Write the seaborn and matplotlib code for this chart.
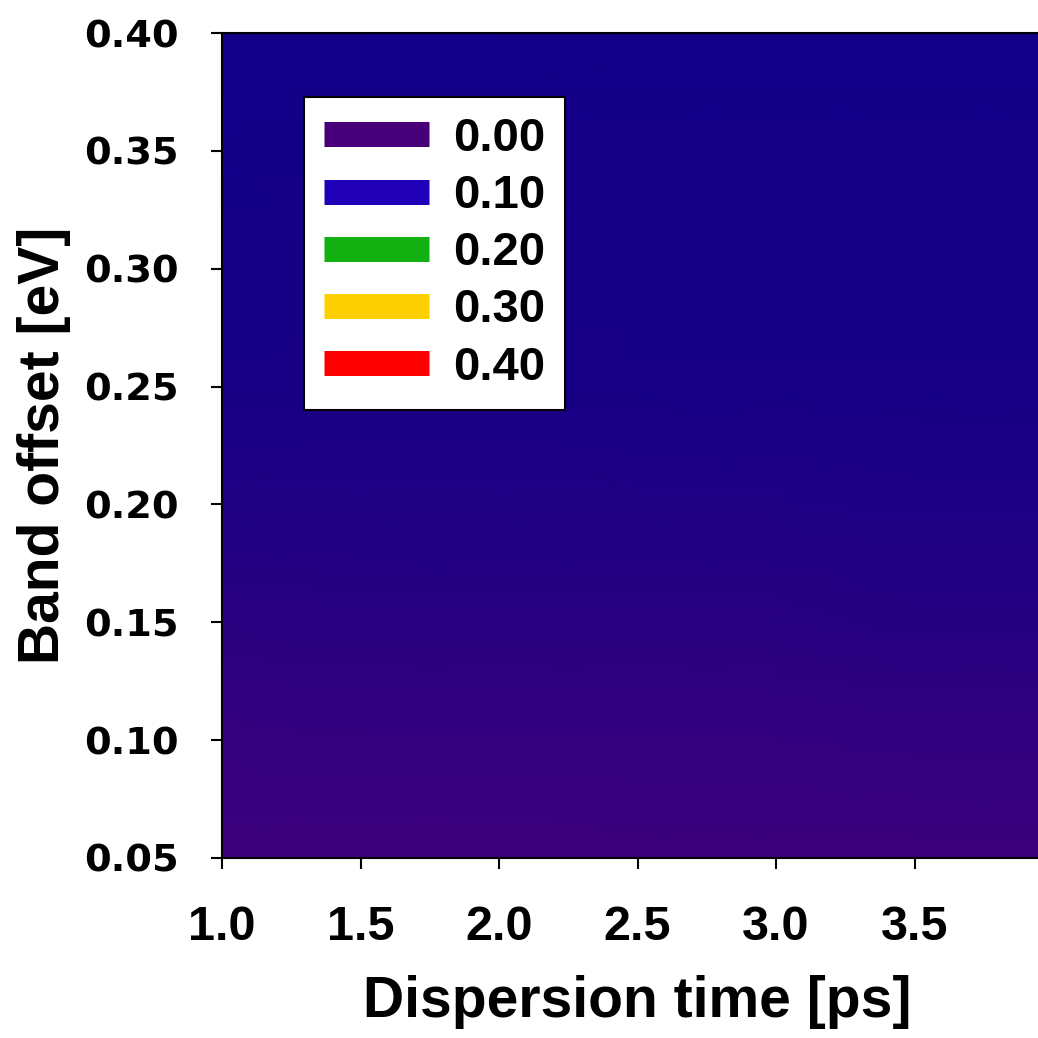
import numpy as np
import seaborn as sns
import matplotlib.pyplot as plt
from matplotlib.colors import LinearSegmentedColormap, Normalize
from matplotlib.lines import Line2D

sns.set_style("ticks")
plt.rcParams["font.family"] = ["Liberation Sans", "DejaVu Sans"]
plt.rcParams["font.weight"] = "bold"
for key in ["text.color", "axes.labelcolor", "xtick.color", "ytick.color", "axes.edgecolor"]:
    plt.rcParams[key] = "black"

# grid (values estimated from the shading)
dispersion_time = [1.0, 1.5, 2.0, 2.5, 3.0, 3.5, 4.0]
band_offset = [0.05, 0.10, 0.15, 0.20, 0.25, 0.30, 0.35, 0.40]
signal = [
    [0.020, 0.020, 0.020, 0.021, 0.021, 0.021, 0.021],
    [0.029, 0.030, 0.030, 0.031, 0.031, 0.032, 0.032],
    [0.037, 0.038, 0.038, 0.039, 0.039, 0.040, 0.040],
    [0.044, 0.044, 0.045, 0.045, 0.045, 0.046, 0.046],
    [0.050, 0.049, 0.049, 0.050, 0.050, 0.050, 0.050],
    [0.054, 0.053, 0.053, 0.053, 0.054, 0.054, 0.054],
    [0.057, 0.056, 0.056, 0.056, 0.056, 0.056, 0.056],
    [0.058, 0.060, 0.060, 0.059, 0.058, 0.058, 0.058],
]

xtick_values = [1.0, 1.5, 2.0, 2.5, 3.0, 3.5]
legend_levels = [0.00, 0.10, 0.20, 0.30, 0.40]

# colour ramp of the original plot
cmap_values = [0.0, 0.020, 0.030, 0.038, 0.045, 0.050, 0.058, 0.10, 0.20, 0.30, 0.40]
cmap_colors = ["#47007a", "#3c007c", "#33007e", "#26007f", "#1c0084", "#170086",
               "#130088", "#2000b8", "#10b010", "#ffd000", "#ff0000"]

vmin, vmax = 0.0, 0.40
cmap = LinearSegmentedColormap.from_list(
    "sigma", [((v - vmin) / (vmax - vmin), c) for v, c in zip(cmap_values, cmap_colors)])
norm = Normalize(vmin, vmax)

fig = plt.figure(figsize=(10.38, 10.38), dpi=100)
ax = fig.add_axes([222 / 1038, 180 / 1038, 831 / 1038, 825 / 1038])

X, Y = np.meshgrid(dispersion_time, band_offset)
ax.pcolormesh(X, Y, np.array(signal), shading="gouraud", cmap=cmap, norm=norm)

ax.set_xlim(1.0, 4.0)
ax.set_ylim(0.05, 0.40)
ax.set_xticks(xtick_values)
ax.set_xticklabels([f"{t:.1f}" for t in xtick_values], fontsize=35, fontweight="bold")
ax.set_yticks(band_offset)
ax.set_yticklabels([f"{t:.2f}" for t in band_offset], fontsize=27.5, fontweight="bold",
                   family="DejaVu Sans")
ax.tick_params(axis="x", direction="out", length=8, width=1.5, pad=26)
ax.tick_params(axis="y", direction="out", length=8, width=1.5, pad=23)

for side in ["left", "bottom", "top", "right"]:
    ax.spines[side].set_linewidth(1.5)

ax.set_xlabel("Dispersion time [ps]", fontsize=41, fontweight="bold")
ax.set_ylabel("Band offset [eV]", fontsize=41, fontweight="bold")
ax.xaxis.set_label_coords(0.5, -0.142)
ax.yaxis.set_label_coords(-0.182, 0.5)

handles = [Line2D([0], [0], color=cmap(norm(v)), lw=18, solid_capstyle="butt")
           for v in legend_levels]
leg = ax.legend(handles, [f"{v:.2f}" for v in legend_levels],
                loc="upper left", bbox_to_anchor=(304 / 1038, 1 - 97 / 1038),
                bbox_transform=fig.transFigure, borderaxespad=0,
                prop={"size": 34, "weight": "bold"}, handlelength=2.23,
                handletextpad=0.5, borderpad=0.42, labelspacing=0.28,
                fancybox=False, framealpha=1, edgecolor="black")
leg.get_frame().set_linewidth(1.5)

fig.savefig("out.png", dpi=100)
